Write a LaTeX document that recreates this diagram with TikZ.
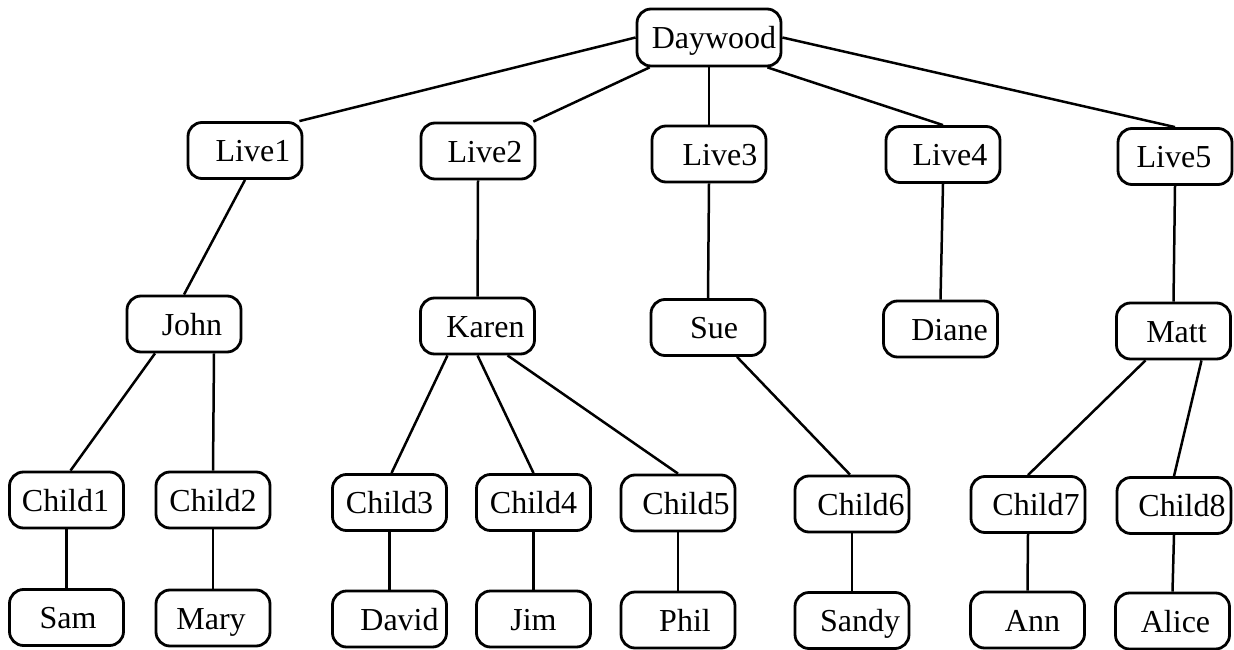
\documentclass[tikz,border=0pt]{standalone}
\usepackage{fontspec}
\setmainfont{Liberation Serif}
% shift a label sideways inside its fixed-width box (#1 = twice the offset, in pt)
\newcommand\ofs[2]{\hspace*{#1pt}#2}
\begin{document}
\begin{tikzpicture}[x=1pt,y=-1pt,
  box/.style={draw, line width=2.8pt, rounded corners=14pt,
    minimum width=114pt, minimum height=56pt, inner sep=0pt,
    text height=25pt, text depth=3pt,
    font=\fontsize{32}{32}\selectfont},
  link/.style={line width=2.5pt}]
\useasboundingbox (0,0) rectangle (1234,650);

% root
\node[box, minimum width=144pt, minimum height=57pt] (day) at (709,37.5) {\ofs{10}{Daywood}};

% second level
\node[box] (l1) at (245,150.5)  {\ofs{16}{Live1}};
\node[box] (l2) at (478,151)    {\ofs{14}{Live2}};
\node[box] (l3) at (709,154)    {\ofs{22}{Live3}};
\node[box] (l4) at (943,154.5)  {\ofs{14}{Live4}};
\node[box] (l5) at (1175,156.5) {\ofs{-2}{Live5}};

% third level
\node[box] (john)  at (184,324)    {\ofs{16}{John}};
\node[box] (karen) at (477.5,326)  {\ofs{16}{Karen}};
\node[box] (sue)   at (708,327.5)  {\ofs{12}{Sue}};
\node[box] (diane) at (940.5,329)  {\ofs{18}{Diane}};
\node[box] (matt)  at (1173.5,331) {\ofs{6}{Matt}};

% fourth level
\node[box] (c1) at (66.5,500)   {\ofs{-2}{Child1}};
\node[box] (c2) at (213,500)    {Child2};
\node[box] (c3) at (389.5,502.5){Child3};
\node[box] (c4) at (533.5,502.5){Child4};
\node[box] (c5) at (678,503)    {\ofs{16}{Child5}};
\node[box] (c6) at (852,504)    {\ofs{18}{Child6}};
\node[box] (c7) at (1028,504.5) {\ofs{16}{Child7}};
\node[box] (c8) at (1174,505.5) {\ofs{16}{Child8}};

% leaves
\node[box] (sam)   at (66.5,617.5) {\ofs{3}{Sam}};
\node[box] (mary)  at (213,618)    {\ofs{-4}{Mary}};
\node[box] (david) at (389.5,619)  {\ofs{20}{David}};
\node[box] (jim)   at (533.5,619)  {Jim};
\node[box] (phil)  at (678,620)    {\ofs{14}{Phil}};
\node[box] (sandy) at (852,620.5)  {\ofs{16}{Sandy}};
\node[box] (ann)   at (1027.5,620) {\ofs{10}{Ann}};
\node[box] (alice) at (1172.5,621) {\ofs{6}{Alice}};

% connectors
\draw[link] (day.west) -- ([xshift=-4pt]l1.north east);
\draw[link] ([xshift=14pt]day.south west) -- ([xshift=-3pt]l2.north east);
\draw[link] (day.south) -- (l3.north);
\draw[link] ([xshift=-15pt]day.south east) -- (l4.north);
\draw[link] (day.east) -- (l5.north);

\draw[link] (l1.south) -- (john.north);
\draw[link] (l2.south) -- (karen.north);
\draw[link] (l3.south) -- (sue.north);
\draw[link] (l4.south) -- (diane.north);
\draw[link] (l5.south) -- (matt.north);

\draw[link] ([xshift=-29pt]john.south) -- ([xshift=4pt]c1.north);
\draw[link] ([xshift=30pt]john.south) -- (c2.north);
\draw[link] ([xshift=-30pt]karen.south) -- ([xshift=2pt]c3.north);
\draw[link] (karen.south) -- (c4.north);
\draw[link] ([xshift=30pt]karen.south) -- (c5.north);
\draw[link] ([xshift=29pt]sue.south) -- ([xshift=-2pt]c6.north);
\draw[link] ([xshift=-28pt]matt.south) -- (c7.north);
\draw[link] ([xshift=28pt]matt.south) -- (c8.north);

\draw[link] (c1.south) -- (sam.north);
\draw[link] (c2.south) -- (mary.north);
\draw[link] (c3.south) -- (david.north);
\draw[link] (c4.south) -- (jim.north);
\draw[link] (c5.south) -- (phil.north);
\draw[link] (c6.south) -- (sandy.north);
\draw[link] (c7.south) -- (ann.north);
\draw[link] (c8.south) -- (alice.north);
\end{tikzpicture}
\end{document}
